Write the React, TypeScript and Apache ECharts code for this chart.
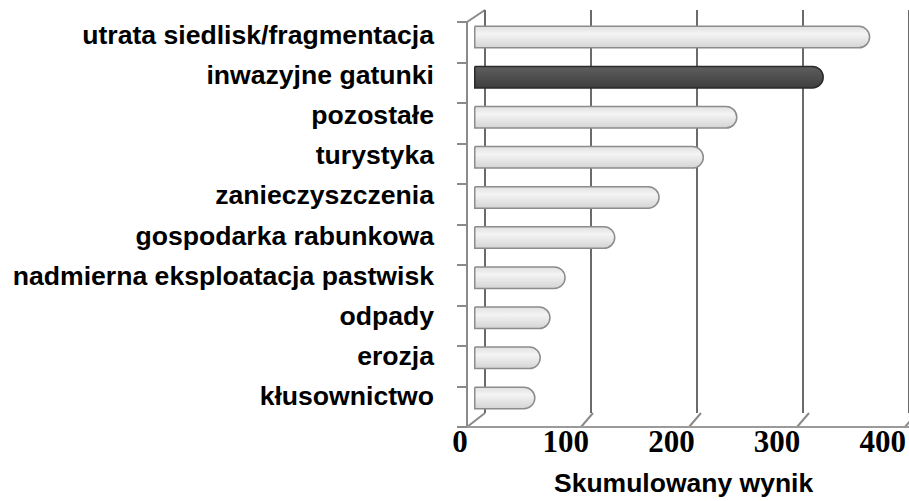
import React, { useEffect, useRef } from "react";
import * as echarts from "echarts";

const categories = [
  "utrata siedlisk/fragmentacja",
  "inwazyjne gatunki",
  "pozostałe",
  "turystyka",
  "zanieczyszczenia",
  "gospodarka rabunkowa",
  "nadmierna eksploatacja pastwisk",
  "odpady",
  "erozja",
  "kłusownictwo",
];
const values = [367, 324, 244, 213, 172, 131, 85, 71, 62, 57];
const highlighted = "inwazyjne gatunki";
const xMin = 0;
const xMax = 400;
const xInterval = 100;
const axisTitle = "Skumulowany wynik";

// layout (pseudo-3D frame)
const W = 909;
const H = 501;
const BACK_LEFT = 485;
const BACK_TOP = 10;
const BACK_BOTTOM = 413;
const SCALE_W = 432;
const BAR_LEFT = 474;
const BAR_TOP = 17;
const BAR_H = 401;
const FRONT_LEFT = 467;
const FRONT_TOP = 22;
const FRONT_BOTTOM = 427;
const LABEL_LEFT = 460;
const LABEL_W = 427;
const DIAG_DX = -12;

const SANS = "'Liberation Sans', Arial, Helvetica, sans-serif";
const SERIF = "'Liberation Serif', 'Times New Roman', serif";

export default function App() {
  const ref = useRef<HTMLDivElement>(null);
  useEffect(() => {
    if (!ref.current) return;
    const chart = echarts.init(ref.current, undefined, { renderer: "svg" });
    const light = new echarts.graphic.LinearGradient(0, 0, 0, 1, [
      { offset: 0, color: "#e0e0e0" },
      { offset: 0.35, color: "#f4f4f4" },
      { offset: 1, color: "#d4d4d4" },
    ]);
    const dark = new echarts.graphic.LinearGradient(0, 0, 0, 1, [
      { offset: 0, color: "#5e5e5e" },
      { offset: 0.4, color: "#525252" },
      { offset: 1, color: "#3e3e3e" },
    ]);
    const nTicks = Math.round((xMax - xMin) / xInterval);
    const step = SCALE_W / nTicks;
    const frame: any[] = [];
    for (let k = 0; k <= nTicks; k++) {
      const bx = BACK_LEFT + k * step;
      const fx = k === 0 ? FRONT_LEFT : bx + DIAG_DX;
      frame.push({
        type: "line",
        shape: { x1: bx, y1: BACK_BOTTOM, x2: fx, y2: FRONT_BOTTOM },
        style: { stroke: "#8a8a8a", lineWidth: 2 },
        silent: true,
      });
    }
    frame.push({
      type: "line",
      shape: { x1: BACK_LEFT, y1: BACK_TOP, x2: FRONT_LEFT, y2: FRONT_TOP },
      style: { stroke: "#8a8a8a", lineWidth: 2 },
      silent: true,
    });

    chart.setOption({
      animation: false,
      backgroundColor: "#ffffff",
      title: {
        text: axisTitle,
        left: 549,
        top: 464,
        textStyle: { fontFamily: SANS, fontSize: 26.5, fontWeight: "bold", color: "#000" },
      },
      grid: [
        { left: BACK_LEFT, top: BACK_TOP, width: SCALE_W, height: BACK_BOTTOM - BACK_TOP },
        { left: BAR_LEFT, top: BAR_TOP, width: SCALE_W, height: BAR_H },
        { left: FRONT_LEFT, top: FRONT_TOP, width: W - FRONT_LEFT, height: FRONT_BOTTOM - FRONT_TOP },
        { left: BAR_LEFT, top: BAR_TOP - 2, width: SCALE_W, height: BAR_H },
        { left: LABEL_LEFT, top: FRONT_TOP, width: LABEL_W, height: FRONT_BOTTOM - FRONT_TOP },
      ],
      xAxis: [
        {
          gridIndex: 0, type: "value", min: xMin, max: xMax, interval: xInterval,
          axisLine: { show: false }, axisTick: { show: false }, axisLabel: { show: false },
          splitLine: { show: true, lineStyle: { color: "#6a6a6a", width: 2 } },
        },
        { gridIndex: 1, type: "value", min: xMin, max: xMax, show: false },
        {
          gridIndex: 2, type: "value", min: 0, max: 1,
          axisLine: { show: true, lineStyle: { color: "#9a9a9a", width: 2 } },
          axisTick: { show: false }, axisLabel: { show: false }, splitLine: { show: false },
        },
        { gridIndex: 3, type: "value", min: xMin, max: xMax, show: false },
        {
          gridIndex: 4, type: "value", min: xMin, max: xMax, interval: xInterval,
          axisLine: { show: false }, axisTick: { show: false }, splitLine: { show: false },
          axisLabel: { fontFamily: SERIF, fontSize: 31, fontWeight: "bold", color: "#000", margin: -1 },
        },
      ],
      yAxis: [
        { gridIndex: 0, type: "category", data: categories, show: false },
        { gridIndex: 1, type: "category", data: categories, inverse: true, show: false },
        {
          gridIndex: 2, type: "category", data: categories,
          axisLine: { show: true, lineStyle: { color: "#8a8a8a", width: 2 } },
          axisTick: { show: true, length: 10, lineStyle: { color: "#8a8a8a", width: 2 } },
          axisLabel: { show: false }, splitLine: { show: false },
        },
        {
          gridIndex: 3, type: "category", data: categories, inverse: true,
          axisLine: { show: false }, axisTick: { show: false }, splitLine: { show: false },
          axisLabel: { fontFamily: SANS, fontSize: 26.6, fontWeight: "bold", color: "#000", margin: BAR_LEFT - 434 },
        },
        { gridIndex: 4, type: "category", data: categories, show: false },
      ],
      series: [
        {
          type: "bar",
          xAxisIndex: 1,
          yAxisIndex: 1,
          barWidth: 23,
          data: values.map((v, i) => ({
            value: v,
            itemStyle: {
              color: categories[i] === highlighted ? dark : light,
              borderColor: categories[i] === highlighted ? "#2a2a2a" : "#8c8c8c",
              borderWidth: 1.5,
              borderRadius: [0, 11, 11, 0],
            },
          })),
        },
      ],
      graphic: frame,
    });
    return () => chart.dispose();
  }, []);
  return (
    <div
      ref={ref}
      style={{ position: "fixed", left: 0, top: 0, width: W, height: H }}
    />
  );
}
